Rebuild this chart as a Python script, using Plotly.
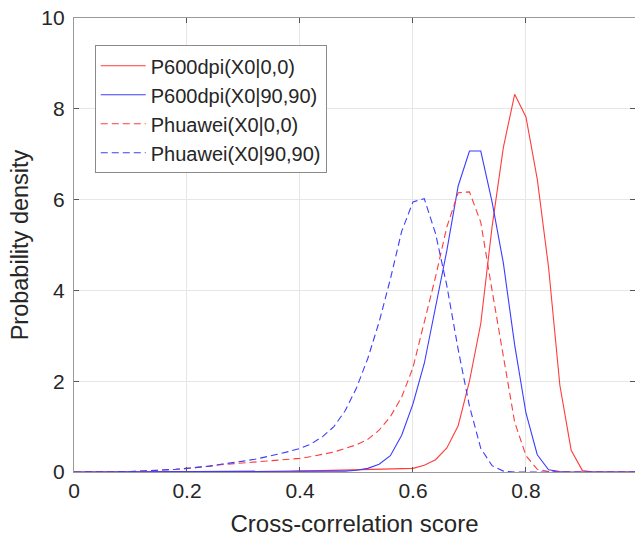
import plotly.graph_objects as go

# x grid (cross-correlation score)
score = [round(i * 0.02, 2) for i in range(51)]

# P600dpi(X0|0,0)
p600_00 = [0, 0, 0, 0, 0, 0, 0, 0, 0, 0,
           0, 0, 0, 0, 0, 0, 0.005, 0.007, 0.01, 0.015,
           0.02, 0.025, 0.03, 0.035, 0.04, 0.05, 0.05, 0.06, 0.07, 0.07,
           0.08, 0.15, 0.27, 0.53, 1.02, 2.0, 3.27, 5.4, 7.15, 8.32,
           7.82, 6.45, 4.51, 1.91, 0.48, 0.03, 0, 0, 0, 0, 0]
# P600dpi(X0|90,90)
p600_9090 = [0, 0, 0, 0, 0, 0, 0, 0, 0, 0,
             0, 0, 0, 0, 0, 0.005, 0.007, 0.01, 0.012, 0.015,
             0.02, 0.02, 0.02, 0.02, 0.02, 0.04, 0.08, 0.17, 0.36, 0.81,
             1.5, 2.39, 3.63, 4.88, 6.3, 7.07, 7.07, 5.95, 4.6, 2.8,
             1.3, 0.38, 0.05, 0.01, 0, 0, 0, 0, 0, 0, 0]
# Phuawei(X0|0,0)
phuawei_00 = [0, 0, 0, 0, 0, 0.01, 0.02, 0.03, 0.04, 0.06,
              0.08, 0.10, 0.13, 0.16, 0.18, 0.20, 0.22, 0.25, 0.27, 0.28,
              0.30, 0.34, 0.39, 0.44, 0.52, 0.60, 0.72, 0.92, 1.22, 1.65,
              2.3, 3.27, 4.3, 5.4, 6.15, 6.17, 5.5, 4.0, 2.5, 1.1,
              0.36, 0.06, 0.01, 0, 0, 0, 0, 0, 0, 0, 0]
# Phuawei(X0|90,90)
phuawei_9090 = [0, 0, 0, 0, 0, 0.01, 0.02, 0.03, 0.04, 0.06,
                0.08, 0.10, 0.13, 0.17, 0.20, 0.24, 0.28, 0.33, 0.39, 0.45,
                0.52, 0.62, 0.78, 1.0, 1.35, 1.85, 2.5, 3.3, 4.25, 5.3,
                5.95, 6.02, 5.25, 4.1, 2.7, 1.45, 0.52, 0.14, 0.02, 0,
                0, 0, 0, 0, 0, 0, 0, 0, 0, 0, 0]

names = ["P600dpi(X0|0,0)", "P600dpi(X0|90,90)", "Phuawei(X0|0,0)", "Phuawei(X0|90,90)"]
x_ticks = [0, 0.2, 0.4, 0.6, 0.8]
y_ticks = [0, 2, 4, 6, 8, 10]

RED = "rgb(255,60,60)"
BLUE = "rgb(60,60,255)"
FONT = "Liberation Sans, Arial, sans-serif"

fig = go.Figure()
series = [p600_00, p600_9090, phuawei_00, phuawei_9090]
colors = [RED, BLUE, RED, BLUE]
dashes = ["solid", "solid", "7px,4px", "7px,4px"]
for name, ys, c, d in zip(names, series, colors, dashes):
    fig.add_trace(go.Scatter(x=score, y=ys, mode="lines", name=name,
                             line=dict(color=c, width=1.1, dash=d)))

axis_common = dict(
    showline=True, linecolor="#9a9a9a", linewidth=1.3, mirror="ticks",
    ticks="inside", ticklen=5, tickcolor="#555555", tickwidth=1,
    showgrid=True, gridcolor="#e6e6e6", gridwidth=1,
    zeroline=False, automargin=False,
    tickfont=dict(family=FONT, size=21, color="#262626"),
)

fig.update_layout(
    width=635, height=542,
    margin=dict(l=74, r=0, t=18, b=70),
    paper_bgcolor="white", plot_bgcolor="white",
    font=dict(family=FONT, color="#262626"),
    xaxis=dict(range=[0, 0.993], tickvals=x_ticks,
               ticktext=["0", "0.2", "0.4", "0.6", "0.8"],
               title=dict(text="Cross-correlation score", font=dict(size=24), standoff=13),
               **axis_common),
    yaxis=dict(range=[0, 10], tickvals=y_ticks, ticklabelstandoff=4,
               title=dict(text="Probability density", font=dict(size=23.5), standoff=6),
               **axis_common),
    legend=dict(x=0.037, y=0.94, xanchor="left", yanchor="top",
                bgcolor="white", bordercolor="#8a8a8a", borderwidth=1,
                font=dict(size=20, color="#262626"), tracegroupgap=0,
                itemwidth=45),
    showlegend=True,
)

fig.write_html("out.html",
               config={"displayModeBar": False},
               post_script="document.body.style.margin='0';document.body.style.overflow='hidden';")
